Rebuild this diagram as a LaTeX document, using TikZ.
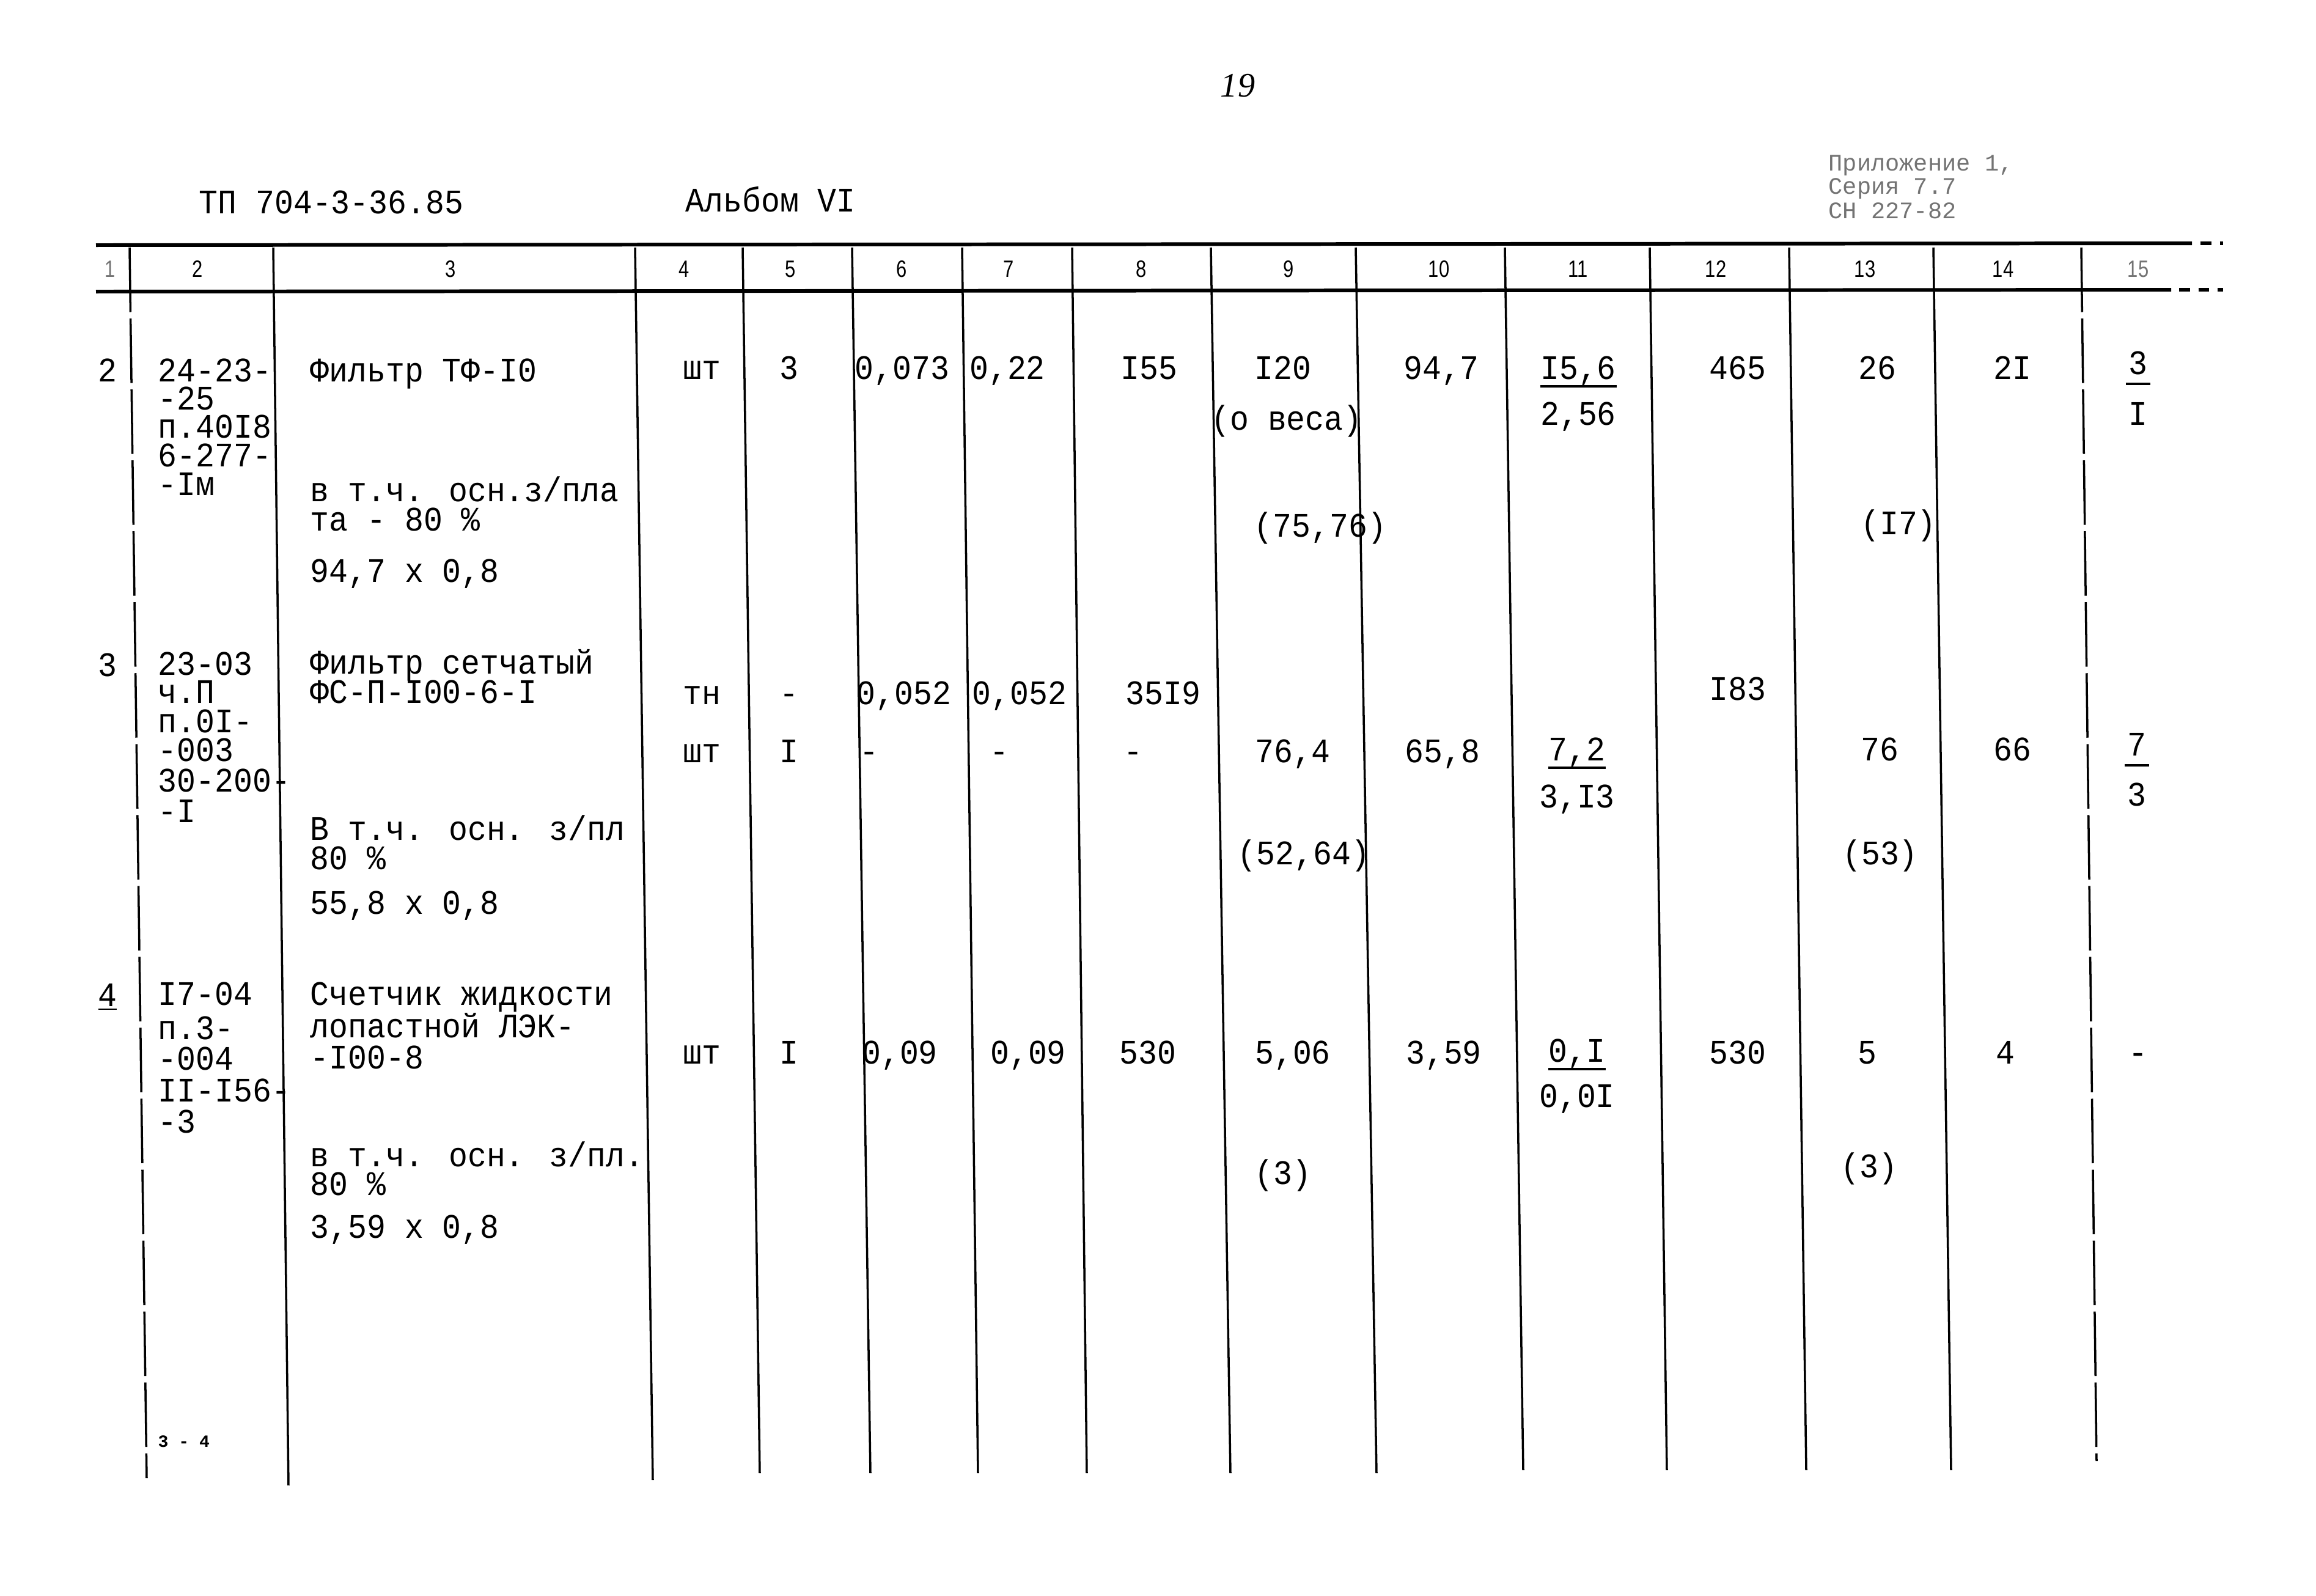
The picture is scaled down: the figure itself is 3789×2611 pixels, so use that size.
\documentclass[tikz,border=0pt]{standalone}
\usepackage{fontspec}
\newfontfamily\twfont[FakeStretch=0.915]{Liberation Mono}
\newfontfamily\hdfont[FakeStretch=0.8]{Liberation Sans}
\newfontfamily\smfont{Liberation Mono}
\newfontfamily\pgfont{Liberation Serif}
\begin{document}
\begin{tikzpicture}[x=0.01cm,y=-0.01cm,
  tw/.style={font=\twfont\fontsize{16}{16}\selectfont, inner sep=0pt},
  twl/.style={tw, anchor=base west},
  twc/.style={tw, anchor=base},
  hd/.style={font=\hdfont\fontsize{11}{11}\selectfont, inner sep=0pt, anchor=base},
  faded/.style={text=black!55},
  small/.style={font=\smfont\fontsize{11}{11}\selectfont, inner sep=0pt, anchor=base west},
  tiny/.style={font=\smfont\bfseries\fontsize{8}{8}\selectfont, inner sep=0pt, anchor=base west},
  hline/.style={line width=1.7pt},
  dotline/.style={line width=1.7pt, dash pattern=on 5pt off 4pt},
  vline/.style={line width=1.0pt},
  vdash/.style={line width=1.0pt, dash pattern=on 30pt off 3pt},
  fbar/.style={line width=1.4pt}]
\path[fill=white, use as bounding box] (0,0) rectangle (3789,2611);

% ---- page header ----
\node[font=\pgfont\itshape\fontsize{16}{16}\selectfont, inner sep=0pt, anchor=base] (pgno) at (2025,158) {19};
\node[twl] (title) at (325,349) {ТП 704-3-36.85};
\node[twl] (album) at (1121,346) {Альбом VI};
\node[small, faded] (app1) at (2991,279) {Приложение 1,};
\node[small, faded] (app2) at (2991,317) {Серия 7.7};
\node[small, faded] (app3) at (2991,357) {СН 227-82};

% ---- header rules ----
\draw[hline] (157,401) -- (3586,398);
\draw[dotline] (3600,398) -- (3637,398);
\draw[hline] (157,477) -- (3552,474);
\draw[dotline] (3565,474) -- (3637,474);

% ---- column rules ----
\draw[vdash] (212,405) -- (240,2418);
\draw[vline] (447,405) -- (472,2430);
\draw[vline] (1039,405) -- (1068,2421);
\draw[vline] (1215,405) -- (1243,2410);
\draw[vline] (1394,405) -- (1424,2410);
\draw[vline] (1574,405) -- (1600,2410);
\draw[vline] (1754,405) -- (1778,2410);
\draw[vline] (1981,405) -- (2013,2410);
\draw[vline] (2218,405) -- (2252,2410);
\draw[vline] (2462,405) -- (2492,2405);
\draw[vline] (2699,405) -- (2727,2405);
\draw[vline] (2927,405) -- (2955,2405);
\draw[vline] (3163,405) -- (3192,2405);
\draw[vdash] (3405,405) -- (3430,2390);

% ---- column numbers ----
\node[hd, faded] (h1) at (180,453) {1};
\node[hd] (h2) at (323,453) {2};
\node[hd] (h3) at (737,453) {3};
\node[hd] (h4) at (1119,453) {4};
\node[hd] (h5) at (1293,453) {5};
\node[hd] (h6) at (1475,453) {6};
\node[hd] (h7) at (1650,453) {7};
\node[hd] (h8) at (1867,453) {8};
\node[hd] (h9) at (2108,453) {9};
\node[hd] (h10) at (2354,453) {10};
\node[hd] (h11) at (2582,453) {11};
\node[hd] (h12) at (2807,453) {12};
\node[hd] (h13) at (3051,453) {13};
\node[hd] (h14) at (3277,453) {14};
\node[hd, faded] (h15) at (3498,453) {15};

% ---- row 2 ----
\node[twc] (r2n) at (176,624) {2};
\node[twl] (r2a1) at (258,624) {24-23-};
\node[twl] (r2a2) at (258,670) {-25};
\node[twl] (r2a3) at (258,716) {п.40I8};
\node[twl] (r2a4) at (258,763) {6-277-};
\node[twl] (r2a5) at (258,810) {-Iм};
\node[twl] (r2b1) at (507,624) {Фильтр ТФ-I0};
\node[twl] (r2b2) at (507,820) {в т.ч. осн.з/пла};
\node[twl] (r2b3) at (507,868) {та - 80 \%};
\node[twl] (r2b4) at (507,952) {94,7 x 0,8};
\node[twc] (r2c4) at (1148,620) {шт};
\node[twc] (r2c5) at (1291,620) {3};
\node[twc] (r2c6) at (1476,620) {0,073};
\node[twc] (r2c7) at (1648,620) {0,22};
\node[twc] (r2c8) at (1880,620) {I55};
\node[twc] (r2c9) at (2099,620) {I20};
\node[twc] (r2c9b) at (2105,703) {(о веса)};
\node[twc] (r2c10) at (2358,620) {94,7};
\node[twc] (r2c11) at (2582,620) {I5,6};
\node[twc] (r2c11b) at (2582,695) {2,56};
\node[twc] (r2c12) at (2843,620) {465};
\node[twc] (r2c13) at (3071,620) {26};
\node[twc] (r2c14) at (3292,620) {2I};
\node[twc] (r2c15) at (3498,612) {3};
\node[twc] (r2c15b) at (3498,695) {I};
\node[twc] (r2c9c) at (2160,878) {(75,76)};
\node[twc] (r2c13c) at (3106,874) {(I7)};
\draw[fbar] ([shift={(0,12)}]r2c11.base west) -- ([shift={(0,12)}]r2c11.base east);
\draw[fbar] ([shift={(-4,16)}]r2c15.base west) -- ([shift={(4,16)}]r2c15.base east);

% ---- row 3 ----
\node[twc] (r3n) at (176,1106) {3};
\node[twl] (r3a1) at (258,1104) {23-03};
\node[twl] (r3a2) at (258,1150) {ч.П};
\node[twl] (r3a3) at (258,1198) {п.0I-};
\node[twl] (r3a4) at (258,1245) {-003};
\node[twl] (r3a5) at (258,1295) {30-200-};
\node[twl] (r3a6) at (258,1345) {-I};
\node[twl] (r3b1) at (507,1102) {Фильтр сетчатый};
\node[twl] (r3b2) at (507,1150) {ФС-П-I00-6-I};
\node[twl] (r3b3) at (507,1374) {В т.ч. осн. з/пл};
\node[twl] (r3b4) at (507,1422) {80 \%};
\node[twl] (r3b5) at (507,1495) {55,8 x 0,8};
\node[twc] (r3c4) at (1148,1152) {тн};
\node[twc] (r3c5) at (1291,1152) {-};
\node[twc] (r3c6) at (1479,1152) {0,052};
\node[twc] (r3c7) at (1668,1152) {0,052};
\node[twc] (r3c8) at (1903,1152) {35I9};
\node[twc] (r3c12) at (2843,1145) {I83};
\node[twc] (r3d4) at (1148,1247) {шт};
\node[twc] (r3d5) at (1291,1247) {I};
\node[twc] (r3d6) at (1422,1247) {-};
\node[twc] (r3d7) at (1635,1247) {-};
\node[twc] (r3d8) at (1854,1247) {-};
\node[twc] (r3d9) at (2115,1247) {76,4};
\node[twc] (r3d10) at (2360,1247) {65,8};
\node[twc] (r3d11) at (2580,1244) {7,2};
\node[twc] (r3d11b) at (2580,1321) {3,I3};
\node[twc] (r3d13) at (3075,1244) {76};
\node[twc] (r3d14) at (3292,1244) {66};
\node[twc] (r3d15) at (3496,1236) {7};
\node[twc] (r3d15b) at (3496,1318) {3};
\node[twc] (r3e9) at (2133,1414) {(52,64)};
\node[twc] (r3e13) at (3076,1414) {(53)};
\draw[fbar] ([shift={(0,12)}]r3d11.base west) -- ([shift={(0,12)}]r3d11.base east);
\draw[fbar] ([shift={(-4,16)}]r3d15.base west) -- ([shift={(4,16)}]r3d15.base east);

% ---- row 4 ----
\node[twc] (r4n) at (176,1646) {\underline{4}};
\node[twl] (r4a1) at (258,1644) {I7-04};
\node[twl] (r4a2) at (258,1700) {п.3-};
\node[twl] (r4a3) at (258,1750) {-004};
\node[twl] (r4a4) at (258,1802) {II-I56-};
\node[twl] (r4a5) at (258,1853) {-3};
\node[twl] (r4b1) at (507,1644) {Счетчик жидкости};
\node[twl] (r4b2) at (507,1697) {лопастной ЛЭК-};
\node[twl] (r4b3) at (507,1748) {-I00-8};
\node[twl] (r4b4) at (507,1908) {в т.ч. осн. з/пл.};
\node[twl] (r4b5) at (507,1955) {80 \%};
\node[twl] (r4b6) at (507,2025) {3,59 x 0,8};
\node[twc] (r4c4) at (1148,1740) {шт};
\node[twc] (r4c5) at (1291,1740) {I};
\node[twc] (r4c6) at (1472,1740) {0,09};
\node[twc] (r4c7) at (1682,1740) {0,09};
\node[twc] (r4c8) at (1878,1740) {530};
\node[twc] (r4c9) at (2115,1740) {5,06};
\node[twc] (r4c10) at (2362,1740) {3,59};
\node[twc] (r4c11) at (2580,1737) {0,I};
\node[twc] (r4c11b) at (2580,1811) {0,0I};
\node[twc] (r4c12) at (2843,1740) {530};
\node[twc] (r4c13) at (3055,1740) {5};
\node[twc] (r4c14) at (3281,1740) {4};
\node[twc] (r4c15) at (3498,1740) {-};
\node[twc] (r4e9) at (2099,1937) {(3)};
\node[twc] (r4e13) at (3058,1926) {(3)};
\draw[fbar] ([shift={(0,12)}]r4c11.base west) -- ([shift={(0,12)}]r4c11.base east);

\node[tiny] (foot) at (258,2367) {3 - 4};
\end{tikzpicture}
\end{document}
